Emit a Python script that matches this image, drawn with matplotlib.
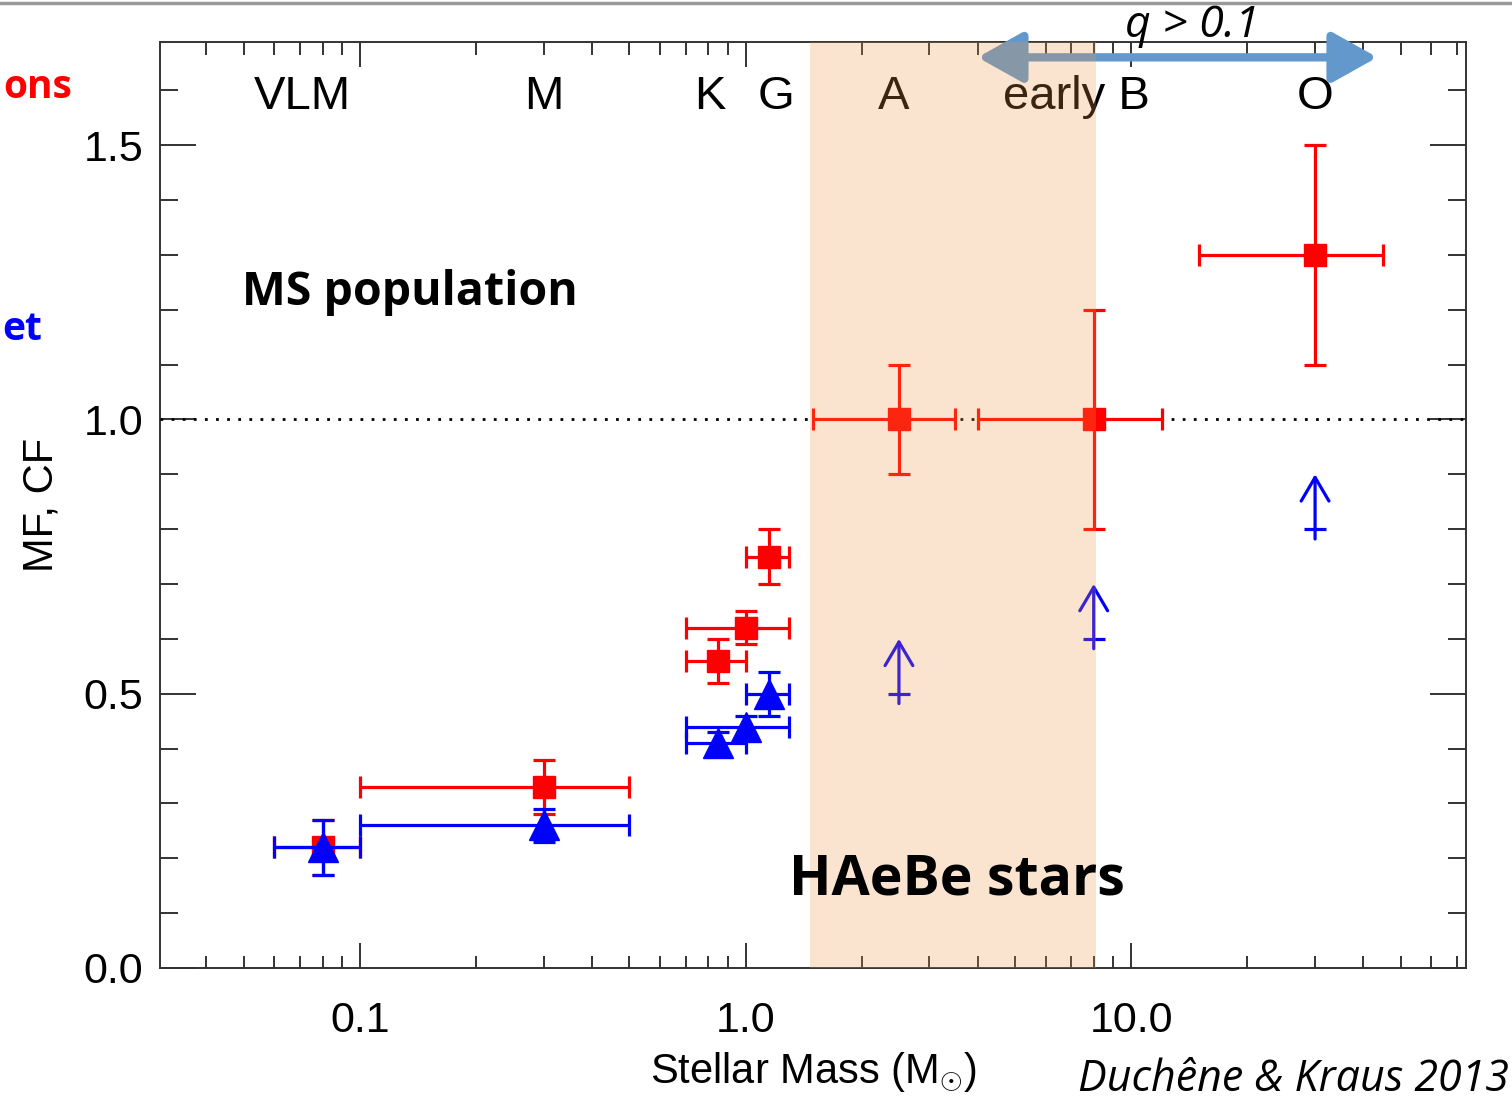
import matplotlib
matplotlib.use('Agg')
import matplotlib.pyplot as plt
from matplotlib.lines import Line2D
import numpy as np

# Multiplicity fraction (MF) - red squares
mf_mass = [0.08, 0.3, 0.85, 1.0, 1.15, 2.5, 8.0, 30.0]
mf_lo = [0.06, 0.1, 0.7, 0.7, 1.0, 1.5, 4.0, 15.0]
mf_hi = [0.1, 0.5, 1.0, 1.3, 1.3, 3.5, 12.0, 45.0]
mf_val = [0.22, 0.33, 0.56, 0.62, 0.75, 1.0, 1.0, 1.3]
mf_err = [0.05, 0.05, 0.04, 0.03, 0.05, 0.1, 0.2, 0.2]

# Companion frequency (CF) - blue triangles
cf_mass = [0.08, 0.3, 0.85, 1.0, 1.15]
cf_lo = [0.06, 0.1, 0.7, 0.7, 1.0]
cf_hi = [0.1, 0.5, 1.0, 1.3, 1.3]
cf_val = [0.22, 0.26, 0.41, 0.44, 0.50]
cf_err = [0.05, 0.03, 0.02, 0.02, 0.04]

# CF lower limits
lim_mass = [2.5, 8.0, 30.0]
lim_val = [0.5, 0.6, 0.8]

# spectral type labels
sp_names = ['VLM', 'M', 'K', 'G', 'A', 'early B', 'O']
sp_pos = [0.071, 0.3, 0.81, 1.2, 2.42, 7.2, 30.0]

narrow = ['Liberation Sans', 'DejaVu Sans']
calib = ['Open Sans', 'DejaVu Sans']

plt.rcParams['mathtext.fontset'] = 'custom'
plt.rcParams['mathtext.rm'] = 'Liberation Sans'
plt.rcParams['mathtext.it'] = 'Liberation Sans:italic'

fig = plt.figure(figsize=(15.12, 11.02), dpi=100)
ax = fig.add_axes([0.1058, 0.1216, 0.8638, 0.8403])

ax.set_xscale('log')
ax.set_xlim(0.0303, 73.9)
ax.set_ylim(0.0, 1.688)

# error bars
xe = [np.array(mf_mass) - np.array(mf_lo), np.array(mf_hi) - np.array(mf_mass)]
ax.errorbar(mf_mass, mf_val, xerr=xe, yerr=mf_err, fmt='s', color='red',
            ms=16, elinewidth=2.3, capsize=8, capthick=2.3, zorder=4)
xe = [np.array(cf_mass) - np.array(cf_lo), np.array(cf_hi) - np.array(cf_mass)]
ax.errorbar(cf_mass, cf_val, xerr=xe, yerr=cf_err, fmt='^', color='blue',
            ms=21, elinewidth=2.3, capsize=8, capthick=2.3, zorder=5)

# lower limits
for m, v in zip(lim_mass, lim_val):
    ax.annotate('', xy=(m, v + 0.1), xytext=(m, v - 0.018),
                arrowprops=dict(arrowstyle='->,head_length=0.85,head_width=0.5',
                                mutation_scale=20, color='blue', lw=2.3,
                                shrinkA=0, shrinkB=0), zorder=5)
    ax.plot([m], [v], marker='_', ms=16, mew=2.3, color='blue', zorder=5)

ax.axhline(1.0, color='black', ls=(0, (1, 3)), lw=2, zorder=3)

# spectral types
for name, p in zip(sp_names, sp_pos):
    ax.text(p, 1.587, name, ha='center', va='center', fontsize=34,
            family=narrow, zorder=3)

# q > 0.1 arrow
ax.annotate('', xy=(4.0, 1.66), xytext=(43.5, 1.66),
            arrowprops=dict(arrowstyle='<|-|>,head_length=1.25,head_width=0.7',
                            mutation_scale=22, color='#6298CC', lw=6,
                            shrinkA=0, shrinkB=0), zorder=4, annotation_clip=False)
ax.text(14.4, 1.718, 'q > 0.1', ha='center', va='center', fontsize=32,
        family=calib, style='italic', clip_on=False)

ax.text(0.0494, 1.232, 'MS population', ha='left', va='center', fontsize=33.5,
        family=calib, weight='bold', zorder=3)

# HAeBe shading, drawn on top with transparency
ax.axvspan(1.47, 8.09, color='#F39740', alpha=0.25, lw=0, zorder=10)
ax.text(1.30, 0.16, 'HAeBe stars', ha='left', va='center', fontsize=40,
        family=calib, weight='bold', zorder=11)

# ticks
ax.set_xticks([0.1, 1.0, 10.0])
ax.set_xticklabels(['0.1', '1.0', '10.0'])
ax.set_yticks([0.0, 0.5, 1.0, 1.5])
ax.set_yticklabels(['0.0', '0.5', '1.0', '1.5'])
ax.set_yticks(np.arange(0.1, 1.7, 0.1), minor=True)
ax.tick_params(which='both', direction='in', top=True, right=True,
               width=1.4, color='#333333')
ax.tick_params(axis='x', which='major', length=18, pad=24)
ax.tick_params(axis='x', which='minor', length=9)
ax.tick_params(axis='y', which='major', length=26, pad=12)
ax.tick_params(axis='y', which='minor', length=13)
for lab in ax.get_xticklabels() + ax.get_yticklabels():
    lab.set_family(narrow)
    lab.set_fontsize(31)
for s in ax.spines.values():
    s.set_linewidth(1.4)
    s.set_color('#333333')

ax.set_xlabel(r'Stellar Mass (M$_{\odot}$)', fontsize=30, family=narrow, labelpad=7)
ax.set_ylabel('MF, CF', fontsize=30, family=narrow, labelpad=16)

# citation and cut-off slide text
fig.text(0.713, 0.020, 'Duchêne & Kraus 2013', fontsize=31, family=calib,
         style='italic', ha='left', va='center')
fig.text(3 / 1512, 1 - 88 / 1102, 'ons', color='red', fontsize=28,
         family=calib, weight='bold', ha='left', va='center')
fig.text(2 / 1512, 1 - 330 / 1102, 'et', color='blue', fontsize=28,
         family=calib, weight='bold', ha='left', va='center')
fig.add_artist(Line2D([0, 1], [0.997, 0.997], color='#999999', lw=2.5))

fig.savefig('out.png', dpi=100)
